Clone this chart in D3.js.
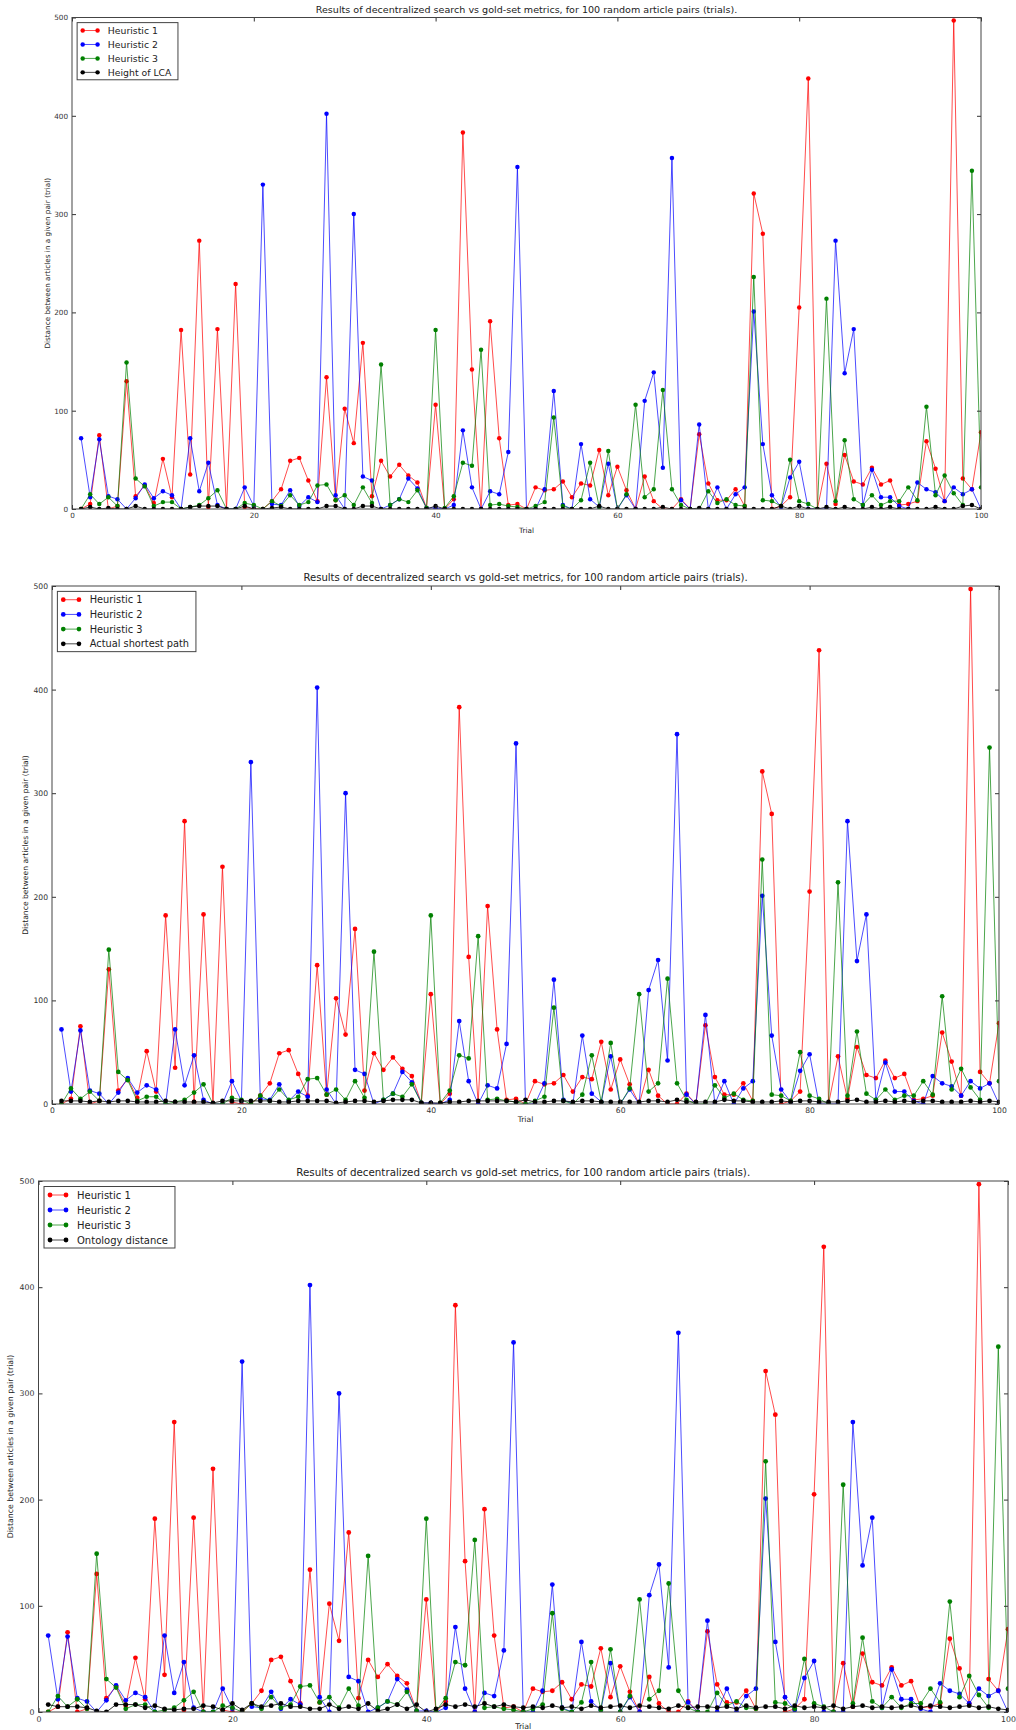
<!DOCTYPE html>
<html>
<head>
<meta charset="utf-8">
<script src="https://cdn.jsdelivr.net/npm/d3@7/dist/d3.min.js"></script>
<style>
body { margin: 0; background: #fff; }
svg { display: block; font-family: "DejaVu Sans", sans-serif; }
.tick line { stroke: #333; }
.tick text { fill: #333; }
</style>
</head>
<body>
<div class="chart"></div>
<script>
// trials 1..100
var trials = d3.range(1, 101);
var xTicks = [0, 20, 40, 60, 80, 100];
var yTicks = [0, 100, 200, 300, 400, 500];
var titleText = "Results of decentralized search vs gold-set metrics, for 100 random article pairs (trials).";
var seriesNames = ["Heuristic 1", "Heuristic 2", "Heuristic 3"];

var heuristic1 = [0,5,75,0,3,130,13,24,6,51, 12,182,35,273,2,183,0,229,2,0,
  0,8,20,49,52,29,8,134,9,102, 67,169,13,49,33,45,34,27,1,106,
  0,10,383,142,0,191,72,4,5,0, 22,19,20,28,12,26,24,60,14,43,
  19,0,33,8,0,0,10,0,76,26, 9,9,20,3,321,280,0,3,12,205,
  438,0,46,5,55,28,25,42,25,29, 4,5,8,69,41,8,497,31,20,78];

var heuristic2 = [72,12,71,13,10,0,11,25,11,18, 14,0,72,18,47,4,0,0,22,3,
  330,5,4,19,3,12,7,402,14,0, 300,33,29,0,4,10,31,21,1,1,
  0,4,80,22,0,18,15,58,348,0, 0,20,120,4,0,66,10,2,46,0,
  14,0,110,139,42,357,9,0,86,0, 22,0,15,22,201,66,14,2,32,48,
  0,0,0,273,138,183,4,40,12,12, 3,0,27,20,17,8,22,15,20,0];

var heuristic3 = [0,15,5,12,3,149,31,23,3,7, 7,0,2,4,11,19,0,0,6,4,
  0,8,3,14,4,7,24,25,9,14, 4,22,6,147,4,10,7,19,1,182,
  1,13,47,44,162,4,5,3,2,0, 3,7,93,3,0,9,47,2,59,0,
  15,106,12,20,121,20,4,0,0,18, 6,10,4,3,236,9,8,3,50,8,
  5,0,214,8,70,10,4,14,4,8, 8,22,9,104,14,34,16,4,344,22];

var heightLCA = [0,2,0,1,0,0,3,0,0,0, 0,0,2,3,3,3,0,0,3,0,
  0,1,2,0,0,0,0,3,3,0, 0,3,3,0,0,0,0,0,0,3,
  0,0,0,0,0,0,0,0,0,0, 0,0,0,0,0,0,0,3,0,0,
  0,0,0,0,2,0,0,0,1,0, 0,0,0,0,0,0,0,3,0,3,
  0,0,2,0,2,0,0,2,0,2, 0,0,0,0,2,0,0,3,4,0];

var shortestPath = [3,3,3,2,3,2,3,3,2,2, 2,3,2,2,2,2,1,3,3,3,
  3,3,3,2,2,3,3,3,3,1, 2,3,3,2,3,4,4,4,1,1,
  1,2,2,3,3,3,3,3,2,4, 2,2,3,3,2,3,3,2,2,2,
  2,2,3,3,2,4,2,2,2,2, 4,3,3,2,2,2,3,2,3,3,
  2,2,2,3,4,2,2,3,2,3, 2,3,3,2,2,2,3,2,3,2];

var ontologyDistance = [7,5,5,5,4,1,0,7,7,7, 4,6,3,2,3,3,6,5,2,8,
  2,8,5,6,8,5,5,3,3,7, 3,5,3,8,1,3,7,3,7,0,
  3,7,5,7,5,8,5,7,5,4, 5,4,6,4,5,3,6,4,5,6,
  4,6,5,4,3,6,4,5,5,4, 5,3,6,4,5,5,3,6,4,5,
  4,6,3,5,6,4,5,4,5,6, 4,6,5,4,5,6,4,5,3,2];

var colors = ["#ff0000", "#0000ff", "#008000", "#000000"];

var svgWidth = 1016;
var svgHeight = 1730;

var svg = d3.select(".chart")
  .append("svg")
  .attr("width", svgWidth)
  .attr("height", svgHeight);

// one entry per subplot: frame box in page pixels and a size factor
var panels = [
  {id: "p1", blackName: "Height of LCA", black: heightLCA,
   left: 72, right: 981, top: 17.5, bottom: 509, k: 0.93, ylabelX: 47, xlabelY: 533},
  {id: "p2", blackName: "Actual shortest path", black: shortestPath,
   left: 52, right: 999, top: 586, bottom: 1104, k: 0.98, ylabelX: 25, xlabelY: 1122},
  {id: "p3", blackName: "Ontology distance", black: ontologyDistance,
   left: 38.5, right: 1008, top: 1181, bottom: 1712, k: 1.0, ylabelX: 10, xlabelY: 1729}
];

panels.forEach(function(p) {
  var k = p.k;
  var x = d3.scaleLinear().domain([0, 100]).range([p.left, p.right]);
  var y = d3.scaleLinear().domain([0, 500]).range([p.bottom, p.top]);

  var g = svg.append("g");

  g.append("clipPath").attr("id", "clip-" + p.id)
    .append("rect")
    .attr("x", p.left).attr("y", p.top)
    .attr("width", p.right - p.left).attr("height", p.bottom - p.top);

  var allSeries = [heuristic1, heuristic2, heuristic3, p.black];
  var names = seriesNames.concat([p.blackName]);

  var plot = g.append("g").attr("clip-path", "url(#clip-" + p.id + ")");

  var line = d3.line()
    .x(function(d, i) { return x(trials[i]); })
    .y(function(d) { return y(d); });

  allSeries.forEach(function(vals, si) {
    var sg = plot.append("g");
    sg.append("path")
      .datum(vals)
      .attr("d", line)
      .attr("fill", "none")
      .attr("stroke", colors[si])
      .attr("stroke-opacity", si == 3 ? 0.8 : 0.7)
      .attr("stroke-width", 1);
    sg.selectAll("circle")
      .data(vals)
      .enter()
      .append("circle")
      .attr("cx", function(d, i) { return x(trials[i]); })
      .attr("cy", function(d) { return y(d); })
      .attr("r", 2.4 * k)
      .attr("fill", colors[si]);
  });

  // axes, ticks pointing inwards like classic matplotlib
  var tickFont = (7.8 * k) + "px";
  var bottomAxis = d3.axisBottom(x).tickValues(xTicks).tickSizeInner(-4).tickSizeOuter(0).tickPadding(4);
  var topAxis = d3.axisTop(x).tickValues(xTicks).tickSizeInner(-4).tickSizeOuter(0).tickFormat("");
  var leftAxis = d3.axisLeft(y).tickValues(yTicks).tickSizeInner(-4).tickSizeOuter(0).tickPadding(4);
  var rightAxis = d3.axisRight(y).tickValues(yTicks).tickSizeInner(-4).tickSizeOuter(0).tickFormat("");

  [[bottomAxis, "translate(0," + p.bottom + ")"],
   [topAxis, "translate(0," + p.top + ")"],
   [leftAxis, "translate(" + p.left + ",0)"],
   [rightAxis, "translate(" + p.right + ",0)"]].forEach(function(a) {
    var ag = g.append("g")
      .attr("transform", a[1])
      .call(a[0]);
    ag.select(".domain").remove();
    ag.selectAll("text").style("font-size", tickFont).style("font-family", "DejaVu Sans");
  });

  g.append("rect")
    .attr("x", p.left).attr("y", p.top)
    .attr("width", p.right - p.left).attr("height", p.bottom - p.top)
    .attr("fill", "none")
    .attr("stroke", "#444")
    .attr("stroke-width", 1);

  // title and axis labels
  g.append("text")
    .attr("x", (p.left + p.right) / 2)
    .attr("y", p.top - 5 * k)
    .attr("text-anchor", "middle")
    .style("font-size", (10.3 * k) + "px")
    .attr("fill", "#222")
    .text(titleText);

  g.append("text")
    .attr("x", (p.left + p.right) / 2)
    .attr("y", p.xlabelY)
    .attr("text-anchor", "middle")
    .style("font-size", (7.8 * k) + "px")
    .attr("fill", "#222")
    .text("Trial");

  g.append("text")
    .attr("transform", "translate(" + p.ylabelX + "," + ((p.top + p.bottom) / 2) + ") rotate(-90)")
    .attr("text-anchor", "middle")
    .attr("dy", "0.35em")
    .style("font-size", (7.8 * k) + "px")
    .attr("fill", "#222")
    .text("Distance between articles in a given pair (trial)");

  // legend
  var lx = p.left + 5.5 * k;
  var ly = p.top + 5.5 * k;
  var rowH = 15 * k;
  var legend = g.append("g").attr("transform", "translate(" + lx + "," + ly + ")");
  var box = legend.append("rect")
    .attr("fill", "#fff")
    .attr("stroke", "#444")
    .attr("stroke-width", 1);
  var maxW = 0;
  names.forEach(function(nm, si) {
    var cy = 8.5 * k + si * rowH;
    legend.append("line")
      .attr("x1", 6 * k).attr("x2", 22 * k)
      .attr("y1", cy).attr("y2", cy)
      .attr("stroke", colors[si])
      .attr("stroke-opacity", 0.7);
    [6 * k, 22 * k].forEach(function(cx) {
      legend.append("circle").attr("cx", cx).attr("cy", cy).attr("r", 2.4 * k).attr("fill", colors[si]);
    });
    var t = legend.append("text")
      .attr("x", 33 * k)
      .attr("y", cy)
      .attr("dy", "0.35em")
      .style("font-size", (10 * k) + "px")
      .attr("fill", "#222")
      .text(nm);
    maxW = Math.max(maxW, t.node().getComputedTextLength());
  });
  box.attr("width", 33 * k + maxW + 7 * k)
    .attr("height", 2 * 8.5 * k + 3 * rowH - 0.5);
});
</script>
</body>
</html>
